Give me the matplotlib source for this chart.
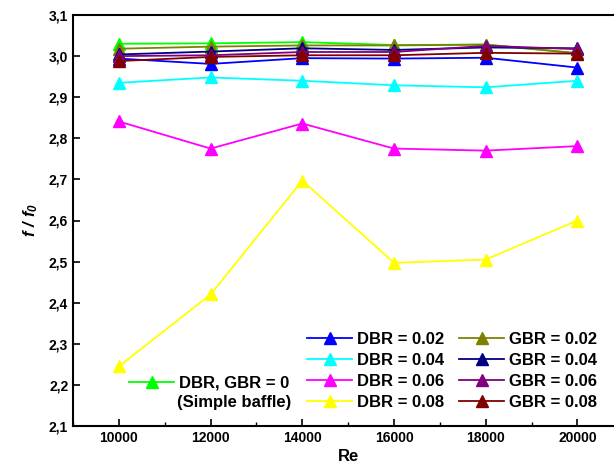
import matplotlib
matplotlib.use("Agg")
import matplotlib.pyplot as plt
from matplotlib.ticker import MultipleLocator, FuncFormatter

plt.rcParams['font.family'] = ['Liberation Sans', 'DejaVu Sans']
plt.rcParams['font.weight'] = 'bold'
plt.rcParams['mathtext.fontset'] = 'custom'
plt.rcParams['mathtext.it'] = 'Liberation Sans:italic:bold'
plt.rcParams['mathtext.rm'] = 'Liberation Sans:italic:bold'

re_values = [10000, 12000, 14000, 16000, 18000, 20000]

simple_baffle = [3.030, 3.031, 3.034, 3.027, 3.028, 3.007]
dbr_002 = [2.994, 2.981, 2.995, 2.994, 2.996, 2.972]
dbr_004 = [2.935, 2.948, 2.940, 2.929, 2.924, 2.940]
dbr_006 = [2.841, 2.775, 2.836, 2.775, 2.770, 2.781]
dbr_008 = [2.245, 2.420, 2.697, 2.497, 2.505, 2.600]
gbr_002 = [3.018, 3.023, 3.026, 3.026, 3.028, 3.007]
gbr_004 = [3.004, 3.011, 3.019, 3.015, 3.021, 3.019]
gbr_006 = [3.000, 3.002, 3.010, 3.010, 3.025, 3.017]
gbr_008 = [2.988, 2.998, 3.002, 3.002, 3.008, 3.006]

dbr_labels = ['DBR = 0.02', 'DBR = 0.04', 'DBR = 0.06', 'DBR = 0.08']
gbr_labels = ['GBR = 0.02', 'GBR = 0.04', 'GBR = 0.06', 'GBR = 0.08']
dbr_colors = ['#0000ff', '#00ffff', '#ff00ff', '#ffff00']
gbr_colors = ['#808000', '#000080', '#800080', '#800000']

W, H = 614, 466
fig = plt.figure(figsize=(W / 100, H / 100), dpi=100)
left, right, top, bottom = 73, 623.3, 15, 426
ax = fig.add_axes([left / W, (H - bottom) / H, (right - left) / W, (bottom - top) / H])

mk = dict(marker='^', markersize=9, linewidth=1.3)
handles = []
for vals, lab, col in zip([dbr_002, dbr_004, dbr_006, dbr_008], dbr_labels, dbr_colors):
    h, = ax.plot(re_values, vals, color=col, label=lab, **mk)
    handles.append(h)
for vals, lab, col in zip([gbr_002, gbr_004, gbr_006, gbr_008], gbr_labels, gbr_colors):
    h, = ax.plot(re_values, vals, color=col, label=lab, **mk)
    handles.append(h)
hs, = ax.plot(re_values, simple_baffle, color='#00ff00', label='DBR, GBR = 0', zorder=1.9, **mk)

ax.set_xlim(9000, 21000)
ax.set_ylim(2.1, 3.1)
ax.xaxis.set_major_locator(MultipleLocator(2000))
ax.xaxis.set_minor_locator(MultipleLocator(1000))
ax.yaxis.set_major_locator(MultipleLocator(0.1))
ax.yaxis.set_major_formatter(FuncFormatter(lambda v, p: f"{v:.1f}".replace('.', ',')))
ax.tick_params(axis='both', which='major', direction='in', length=5, width=1.2,
               labelsize=10, top=False, right=False)
ax.tick_params(axis='x', which='minor', direction='in', length=3, width=1.0, top=False)
for lbl in ax.get_xticklabels() + ax.get_yticklabels():
    lbl.set_fontweight('bold')
for s in ['left', 'bottom', 'top']:
    ax.spines[s].set_linewidth(1.5)
ax.spines['right'].set_visible(False)

ax.set_xlabel('Re', fontsize=12, fontweight='bold', labelpad=3)
ax.set_ylabel(r'$f\ /\ f_0$', fontsize=12, labelpad=6)

leg = fig.legend(handles=handles, loc='upper left', ncol=2, frameon=False,
                 bbox_to_anchor=(302 / W, 1 - 327 / H),
                 handlelength=2.7, handletextpad=0.3, columnspacing=0.9,
                 labelspacing=0.36, borderaxespad=0, borderpad=0.3,
                 prop={'weight': 'bold', 'size': 12})
leg2 = ax.legend(handles=[hs], loc='upper left', frameon=False,
                 bbox_to_anchor=(124 / W, 1 - 371 / H), bbox_transform=fig.transFigure,
                 handlelength=2.7, handletextpad=0.3, borderaxespad=0, borderpad=0.3,
                 prop={'weight': 'bold', 'size': 12})
fig.text(291 / W, 1 - 403 / H, '(Simple baffle)', ha='right', va='center',
         fontsize=12, fontweight='bold')

fig.savefig('out.png', dpi=100)
